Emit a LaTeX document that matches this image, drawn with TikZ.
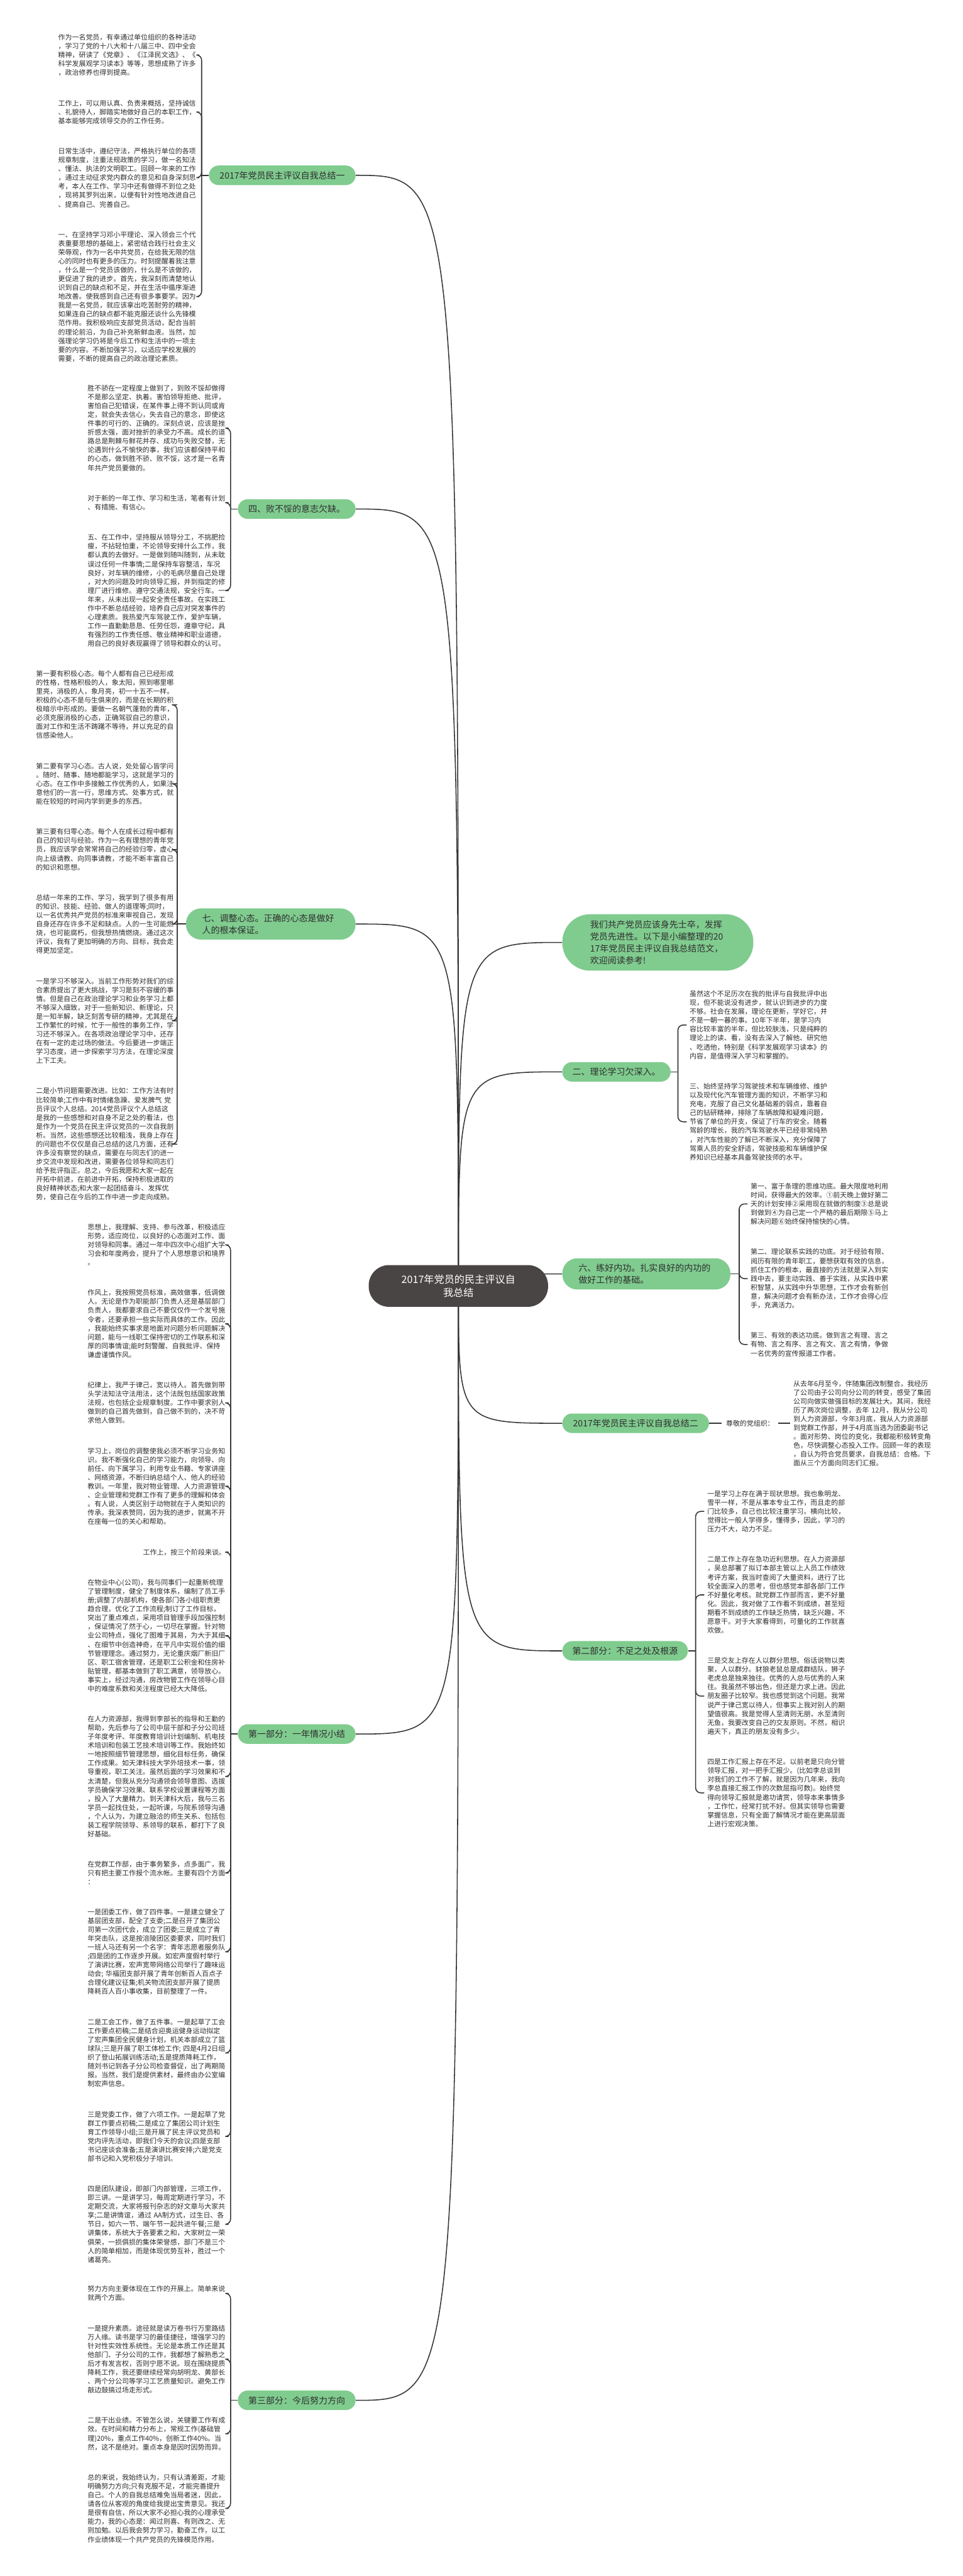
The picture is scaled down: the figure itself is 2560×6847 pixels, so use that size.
\documentclass[tikz,border=0pt]{standalone}
\usepackage{fontspec}
\setmainfont{Noto Sans CJK SC}
\usepackage{xcolor}
\usepackage{tikz}
\usetikzlibrary{positioning,backgrounds}
\definecolor{mapgreen}{HTML}{80CC8F}
\definecolor{rootgray}{HTML}{4A4545}
\definecolor{linegray}{HTML}{353535}
\definecolor{textgray}{HTML}{2E2E2E}
\newcommand{\leaffont}{\fontsize{9.15pt}{11.75pt}\selectfont}
\newcommand{\topicfont}{\fontsize{11.7pt}{15.8pt}\selectfont}
\newcommand{\rootfont}{\fontsize{13.5pt}{18pt}\selectfont}

\begin{document}
\begin{tikzpicture}[x=0.5pt,y=-0.5pt,node distance=31.5pt,
	leaf/.style={text width=183.5pt,align=left,inner sep=0pt,outer xsep=4pt,font=\leaffont,text=textgray},
	topic/.style={fill=mapgreen,rounded corners=13pt,minimum height=26pt,inner xsep=0pt,font=\topicfont,text=textgray},
	hook/.style={rounded corners=7pt,to path={(\tikztostart) |- (\tikztotarget)}},
	curvy/.style={to path={(\tikztostart) .. controls (\tikztostart |- \tikztotarget) .. (\tikztotarget)}},
	every edge/.style={draw=linegray,line width=1.3pt}]
			\useasboundingbox (0,0) rectangle (2560,6847);
			\node[fill=rootgray,text=white,rounded corners=27pt,minimum width=238.5pt,minimum height=55.5pt,align=center,font=\rootfont] (root) at (1219,3418) {2017年党员的民主评议自\\我总结};

			\node[topic,anchor=east,minimum width=195pt] (b1) at (946,466) {2017年党员民主评议自我总结一};
			\node[topic,anchor=east,minimum width=156.5pt] (b2) at (946,1353) {四、败不馁的意志欠缺。};
			\node[topic,anchor=east,text width=182.5pt,inner xsep=21.5pt,minimum height=41.5pt,rounded corners=20pt,align=left] (b3) at (946,2456) {七、调整心态。正确的心态是做好\\人的根本保证。};
			\node[topic,anchor=east,minimum width=156.5pt] (b4) at (946,4609) {第一部分：一年情况小结};
			\node[topic,anchor=east,minimum width=156.5pt] (b5) at (946,6380) {第三部分：今后努力方向};
			\node[topic,anchor=west,text width=180pt,inner xsep=37pt,minimum height=75pt,rounded corners=37pt,align=left] (r1) at (1495,2505) {我们共产党员应该身先士卒，发挥\\党员先进性。以下是小编整理的20\\17年党员民主评议自我总结范文，\\欢迎阅读参考!};
			\node[topic,anchor=west,minimum width=144pt] (r2) at (1495,2849) {二、理论学习欠深入。};
			\node[topic,anchor=west,text width=180.5pt,inner xsep=21.5pt,minimum height=41.5pt,rounded corners=20pt,align=left] (r3) at (1495,3386) {六、练好内功。扎实良好的内功的\\做好工作的基础。};
			\node[topic,anchor=west,minimum width=195pt] (r4) at (1495,3783) {2017年党员民主评议自我总结二};
			\node[topic,anchor=west,minimum width=167pt] (r5) at (1495,4388) {第二部分：不足之处及根源};

			\coordinate (h1) at ([xshift=-9.5pt]b1.west);
			\coordinate (h2) at ([xshift=-9.5pt]b2.west);
			\coordinate (h3) at ([xshift=-11.5pt]b3.west);
			\coordinate (h4) at ([xshift=-9.5pt]b4.west);
			\coordinate (h5) at ([xshift=-9.5pt]b5.west);
			\coordinate (k2) at ([xshift=9.5pt]r2.east);
			\coordinate (k3) at ([xshift=11.5pt]r3.east);
			\coordinate (k5) at ([xshift=10pt]r5.east);

			\node[leaf,anchor=north west] (l1a) at (147,90) {作为一名党员，有幸通过单位组织的各种活动\\，学习了党的十八大和十八届三中、四中全会\\精神，研读了《党章》、《江泽民文选》、《\\科学发展观学习读本》等等，思想成熟了许多\\，政治修养也得到提高。};
			\node[leaf] (l1b) [below=of l1a] {工作上，可以用认真、负责来概括，坚持诚信\\、礼貌待人，脚踏实地做好自己的本职工作，\\基本能够完成领导交办的工作任务。};
			\node[leaf] (l1c) [below=of l1b] {日常生活中，遵纪守法，严格执行单位的各项\\规章制度，注重法规政策的学习，做一名知法\\、懂法、执法的文明职工。回顾一年来的工作\\，通过主动征求党内群众的意见和自身深刻思\\考，本人在工作、学习中还有做得不到位之处\\，现将其罗列出来，以便有针对性地改进自己\\、提高自己、完善自己。};
			\node[leaf] (l1d) [below=of l1c] {一、在坚持学习邓小平理论、深入领会三个代\\表重要思想的基础上，紧密结合践行社会主义\\荣辱观，作为一名中共党员，在给我无限的信\\心的同时也有更多的压力。时刻提醒着我注意\\，什么是一个党员该做的，什么是不该做的，\\更促进了我的进步。首先，我深刻而清楚地认\\识到自己的缺点和不足，并在生活中循序渐进\\地改善。使我感到自己还有很多事要学。因为\\我是一名党员，就应该拿出吃苦耐劳的精神，\\如果连自己的缺点都不能克服还谈什么先锋模\\范作用。我积极响应支部党员活动，配合当前\\的理论前沿，为自己补充新鲜血液。当然，加\\强理论学习仍将是今后工作和生活中的一项主\\要的内容。不断加强学习，以适应学校发展的\\需要，不断的提高自己的政治理论素质。};

			\node[leaf,anchor=north west] (l2a) at (225,1023) {胜不骄在一定程度上做到了，到败不馁却做得\\不是那么坚定、执着。害怕领导拒绝、批评，\\害怕自己犯错误，在某件事上得不到认同或肯\\定，就会失去信心，失去自己的意念，即使这\\件事的可行的、正确的。深刻点说，应该是挫\\折感太强，面对挫折的承受力不高。成长的道\\路总是荆棘与鲜花并存、成功与失败交替，无\\论遇到什么不愉快的事，我们应该都保持平和\\的心态，做到胜不骄、败不馁，这才是一名青\\年共产党员要做的。};
			\node[leaf] (l2b) [below=of l2a] {对于新的一年工作、学习和生活，笔者有计划\\、有措施、有信心。};
			\node[leaf] (l2c) [below=of l2b] {五、在工作中，坚持服从领导分工，不挑肥捡\\瘦，不拈轻怕重，不论领导安排什么工作，我\\都认真的去做好。一是做到随叫随到，从未耽\\误过任何一件事情;二是保持车容整洁，车况\\良好，对车辆的维修，小的毛病尽量自己处理\\，对大的问题及时向领导汇报，并到指定的修\\理厂进行维修。遵守交通法规，安全行车。一\\年来，从未出现一起安全责任事故。在实践工\\作中不断总结经验，培养自己应对突发事件的\\心理素质。我热爱汽车驾驶工作，爱护车辆，\\工作一直勤勤恳恳、任劳任怨，遵章守纪，具\\有强烈的工作责任感、敬业精神和职业道德，\\用自己的良好表现赢得了领导和群众的认可。};

			\node[leaf,anchor=north west] (l3a) at (88,1782) {第一要有积极心态。每个人都有自己已经形成\\的性格，性格积极的人，象太阳，照到哪里哪\\里亮，消极的人，象月亮，初一十五不一样。\\积极的心态不是与生俱来的，而是在长期的积\\极暗示中形成的。要做一名朝气蓬勃的青年，\\必须克服消极的心态，正确驾驭自己的意识，\\面对工作和生活不踌躇不等待，并以充足的自\\信感染他人。};
			\node[leaf] (l3b) [below=of l3a] {第二要有学习心态。古人说，处处留心皆学问\\。随时、随事、随地都能学习，这就是学习的\\心态。在工作中多接触工作优秀的人，如果注\\意他们的一言一行，思维方式、处事方式，就\\能在较短的时间内学到更多的东西。};
			\node[leaf] (l3c) [below=of l3b] {第三要有归零心态。每个人在成长过程中都有\\自己的知识与经验。作为一名有理想的青年党\\员，我应该学会常常将自己的经验归零，虚心\\向上级请教、向同事请教，才能不断丰富自己\\的知识和思想。};
			\node[leaf] (l3d) [below=of l3c] {总结一年来的工作、学习，我学到了很多有用\\的知识、技能、经验、做人的道理等;同时，\\以一名优秀共产党员的标准来审视自己，发现\\自身还存在许多不足和缺点。人的一生可能燃\\烧，也可能腐朽，但我想热情燃烧。通过这次\\评议，我有了更加明确的方向、目标，我会走\\得更加坚定。};
			\node[leaf] (l3e) [below=of l3d] {一是学习不够深入。当前工作形势对我们的综\\合素质提出了更大挑战，学习是刻不容缓的事\\情。但是自己在政治理论学习和业务学习上都\\不够深入细致，对于一些新知识、新理论，只\\是一知半解，缺乏刻苦专研的精神，尤其是在\\工作繁忙的时候，忙于一般性的事务工作，学\\习还不够深入。在各项政治理论学习中，还存\\在有一定的走过场的做法。今后要进一步端正\\学习态度，进一步探索学习方法，在理论深度\\上下工夫。};
			\node[leaf] (l3f) [below=of l3e] {二是小节问题需要改进。比如：工作方法有时\\比较简单;工作中有时情绪急躁、爱发脾气 党\\员评议个人总结。2014党员评议个人总结这\\是我的一些感想和对自身不足之处的看法，也\\是作为一个党员在民主评议党员的一次自我剖\\析。当然，这些感想还比较粗浅，我身上存在\\的问题也不仅仅是自己总结的这几方面，还有\\许多没有察觉的缺点，需要在与同志们的进一\\步交流中发现和改进，需要各位领导和同志们\\给予批评指正。总之，今后我愿和大家一起在\\开拓中前进，在前进中开拓，保持积极进取的\\良好精神状态;和大家一起团结奋斗、发挥优\\势，使自己在今后的工作中进一步走向成熟。};

			\node[leaf,anchor=north west] (l4a) at (225,3253) {思想上，我理解、支持、参与改革，积极适应\\形势，适应岗位，以良好的心态面对工作、面\\对领导和同事。通过一年中四次中心组扩大学\\习会和年度两会，提升了个人思想意识和境界\\。};
			\node[leaf] (l4b) [below=of l4a] {作风上，我按照党员标准，高效做事，低调做\\人。无论是作为职能部门负责人还是基层部门\\负责人，我都要求自己不要仅仅作一个发号施\\令者，还要承担一些实际而具体的工作。因此\\，我能始终实事求是地面对问题分析问题解决\\问题，能与一线职工保持密切的工作联系和深\\厚的同事情谊;能时刻警醒、自我批评、保持\\谦虚谨慎作风。};
			\node[leaf] (l4c) [below=of l4b] {纪律上，我严于律己，宽以待人。首先做到带\\头学法知法守法用法，这个法既包括国家政策\\法规，也包括企业规章制度。工作中要求别人\\做到的自己首先做到，自己做不到的，决不苛\\求他人做到。};
			\node[leaf] (l4d) [below=of l4c] {学习上，岗位的调整使我必须不断学习业务知\\识。我不断强化自己的学习能力，向领导、向\\前任、向下属学习，利用专业书籍、专家讲座\\、网络资源，不断归纳总结个人、他人的经验\\教训。一年里，我对物业管理、人力资源管理\\、企业管理和党群工作有了更多的理解和体会\\。有人说，人类区别于动物就在于人类知识的\\传承。我深表赞同，因为我的进步，就离不开\\在座每一位的关心和帮助。};
			\node[leaf,align=right] (l4e) [below=of l4d] {工作上，按三个阶段来谈。};
			\node[leaf] (l4f) [below=of l4e] {在物业中心(公司)，我与同事们一起重新梳理\\了管理制度，健全了制度体系，编制了员工手\\册;调整了内部机构，使各部门各小组职责更\\趋合理，优化了工作流程;制订了工作目标，\\突出了重点难点，采用项目管理手段加强控制\\，保证情况了然于心，一切尽在掌握。针对物\\业公司特点，强化了图难于其易，为大于其细\\、在细节中创造神奇，在平凡中实现价值的细\\节管理理念。通过努力，无论重庆烟厂新旧厂\\区、职工宿舍管理，还是职工公积金和住房补\\贴管理，都基本做到了职工满意，领导放心。\\事实上，经过沟通，房改物管工作在领导心目\\中的难度系数和关注程度已经大大降低。};
			\node[leaf] (l4g) [below=of l4f] {在人力资源部，我得到李部长的指导和王勤的\\帮助，先后参与了公司中层干部和子分公司班\\子年度考评、年度教育培训计划编制、机电技\\术培训和包装工艺技术培训等工作。我始终如\\一地按照细节管理思想，细化目标任务，确保\\工作成果。如天津科技大学外培技术一事，领\\导重视，职工关注。虽然后面的学习效果和不\\太清楚，但我从充分沟通领会领导意图、选拔\\学员确保学习效果、联系学校设置课程等方面\\，投入了大量精力。到天津科大后，我与三名\\学员一起找住处，一起听课，与院系领导沟通\\，个人认为，为建立融洽的师生关系、包括包\\装工程学院领导、系领导的联系，都打下了良\\好基础。};
			\node[leaf] (l4h) [below=of l4g] {在党群工作部，由于事务繁多，点多面广，我\\只有把主要工作报个流水帐。主要有四个方面\\：};
			\node[leaf] (l4i) [below=of l4h] {一是团委工作，做了四件事。一是建立健全了\\基层团支部，配全了支委;二是召开了集团公\\司第一次团代会，成立了团委;三是成立了青\\年突击队，这是按涪陵团区委要求，同时我们\\一班人马还有另一个名字：青年志愿者服务队\\;四是团的工作逐步开展。如宏声度假村举行\\了演讲比赛，宏声宽带网络公司举行了趣味运\\动会; 华福团支部开展了青年创新百人百点子\\合理化建议征集;机关物流团支部开展了提质\\降耗百人百小事收集，目前整理了一件。};
			\node[leaf] (l4j) [below=of l4i] {二是工会工作，做了五件事。一是起草了工会\\工作要点初稿;二是结合迎奥运健身运动拟定\\了宏声集团全民健身计划，机关本部成立了篮\\球队;三是开展了职工体检工作; 四是4月2日组\\织了登山拓展训练活动;五是提质降耗工作，\\随刘书记到各子分公司检查督促，出了两期简\\报。当然，我们是提供素材，最终由办公室编\\制宏声信息。};
			\node[leaf] (l4k) [below=of l4j] {三是党委工作，做了六项工作。一是起草了党\\群工作要点初稿;二是成立了集团公司计划生\\育工作领导小组;三是开展了民主评议党员和\\党内评先活动，即我们今天的会议;四是支部\\书记座谈会准备;五是演讲比赛安排;六是党支\\部书记和入党积极分子培训。};
			\node[leaf] (l4l) [below=of l4k] {四是团队建设，即部门内部管理，三项工作，\\即三讲。一是讲学习，每周定期进行学习，不\\定期交流，大家将报刊杂志的好文章与大家共\\享;二是讲情谊，通过 AA制方式，过生日、各\\节日，如六一节、端午节一起共进午餐;三是\\讲集体，系统大于各要素之和，大家树立一荣\\俱荣，一损俱损的集体荣誉感，部门不是三个\\人的简单相加，而是体现优势互补，胜过一个\\诸葛亮。};

			\node[leaf,anchor=north west] (l5a) at (225,6075) {努力方向主要体现在工作的开展上。简单来说\\就两个方面。};
			\node[leaf] (l5b) [below=of l5a] {一是提升素质。途径就是读万卷书行万里路结\\万人缘。读书是学习的最佳捷径，增强学习的\\针对性实效性系统性。无论是本质工作还是其\\他部门、子分公司的工作，我都想了解熟悉之\\后才有发言权，否则宁愿不说。现在围绕提质\\降耗工作，我还要继续经常向胡明龙、黄部长\\、两个分公司等学习工艺质量知识。避免工作\\敲边鼓搞过场走形式。};
			\node[leaf] (l5c) [below=of l5b] {二是干出业绩。不管怎么说，关键要工作有成\\效。在时间和精力分布上，常规工作(基础管\\理)20\%，重点工作40\%，创新工作40\%。当\\然，这不是绝对。重点本身是因时因势而异。};
			\node[leaf] (l5d) [below=of l5c] {总的来说，我始终认为，只有认清差距，才能\\明确努力方向;只有克服不足，才能完善提升\\自己。个人的自我总结难免当局者迷，因此，\\请各位从客观的角度给我提出宝贵意见。我还\\是很有自信，所以大家不必担心我的心理承受\\能力，我的心态是：闻过则喜、有则改之、无\\则加勉。以后我会努力学习，勤奋工作，以工\\作业绩体现一个共产党员的先锋模范作用。};

			\node[leaf,anchor=north west] (m2a) at (1826,2633) {虽然这个不足历次在我的批评与自我批评中出\\现，但不能说没有进步，就认识到进步的力度\\不够。社会在发展，理论在更新，学好它，并\\不是一朝一暮的事。10年下半年，是学习内\\容比较丰富的半年，但比较肤浅，只是纯粹的\\理论上的读、看，没有去深入了解他、研究他\\、吃透他，特别是《科学发展观学习读本》的\\内容，是值得深入学习和掌握的。};
			\node[leaf] (m2b) [below=of m2a] {三、始终坚持学习驾驶技术和车辆维修、维护\\以及现代化汽车管理方面的知识，不断学习和\\充电，克服了自己文化基础差的弱点，靠着自\\己的钻研精神，排除了车辆故障和疑难问题，\\节省了单位的开支，保证了行车的安全。随着\\驾龄的增长，我的汽车驾驶水平已经非常纯熟\\，对汽车性能的了解已不断深入，充分保障了\\驾乘人员的安全舒适，驾驶技能和车辆维护保\\养知识已经基本具备驾驶技师的水平。};

			\node[leaf,anchor=north west] (m3a) at (1988,3144) {第一、富于条理的思维功底。最大限度地利用\\时间，获得最大的效率。①前天晚上做好第二\\天的计划安排②采用现在就做的制度③总是说\\到做到④为自己定一个严格的最后期限⑤马上\\解决问题⑥始终保持愉快的心情。};
			\node[leaf] (m3b) [below=of m3a] {第二、理论联系实践的功底。对于经验有限、\\阅历有限的青年职工，要想获取有效的信息，\\抓住工作的根本，最直接的方法就是深入到实\\践中去，要主动实践、善于实践，从实践中累\\积智慧，从实践中升华思想，工作才会有新创\\意，解决问题才会有新办法，工作才会得心应\\手，充满活力。};
			\node[leaf] (m3c) [below=of m3b] {第三、有效的表达功底。做到言之有理、言之\\有物、言之有序、言之有文、言之有情，争做\\一名优秀的宣传报道工作者。};

			\node[font=\leaffont,text=textgray,inner sep=0pt,outer xsep=5.5pt] (r4tag) [right=17pt of r4] {尊敬的党组织：};
			\node[leaf] (m4a) [right=16pt of r4tag] {从去年6月至今，伴随集团改制整合，我经历\\了公司由子公司向分公司的转变，感受了集团\\公司向做实做强目标的发展壮大。其间，我经\\历了两次岗位调整，去年 12月，我从分公司\\到人力资源部，今年3月底，我从人力资源部\\到党群工作部，并于4月底当选为团委副书记\\。面对形势、岗位的变化，我都能积极转变角\\色，尽快调整心态投入工作。回顾一年的表现\\，自认为符合党员要求，自我总结：合格。下\\面从三个方面向同志们汇报。};

			\node[leaf,anchor=north west] (m5a) at (1873,3961) {一是学习上存在满于现状思想。我也象明龙、\\雪平一样，不是从事本专业工作，而且走的部\\门比较多，自己也比较注重学习。横向比较，\\觉得比一般人学得多，懂得多，因此，学习的\\压力不大，动力不足。};
			\node[leaf] (m5b) [below=of m5a] {二是工作上存在急功近利思想。在人力资源部\\，吴总部署了拟订本部主管以上人员工作绩效\\考评方案，我当时查阅了大量资料，进行了比\\较全面深入的思考，但也感觉本部各部门工作\\不好量化考核。就党群工作部而言，更不好量\\化。因此，我对做了工作看不到成绩，甚至短\\期看不到成绩的工作缺乏热情，缺乏兴趣，不\\愿意干。对于大家看得到，可量化的工作就喜\\欢做。};
			\node[leaf] (m5c) [below=of m5b] {三是交友上存在人以群分思想。俗话说物以类\\聚，人以群分。豺狼老鼠总是成群结队，狮子\\老虎总是独来独往。优秀的人总与优秀的人来\\往。我虽然不够出色，但还是力求上进。因此\\朋友圈子比较窄。我也感觉到这个问题。我常\\说严于律己宽以待人，但事实上我对别人的期\\望值很高。我是觉得人至清则无朋，水至清则\\无鱼，我要改变自己的交友原则。不然，相识\\遍天下，真正的朋友没有多少。};
			\node[leaf] (m5d) [below=of m5c] {四是工作汇报上存在不足。以前老是只向分管\\领导汇报，对一把手汇报少。(比如李总谈到\\对我们的工作不了解，就是因为几年来，我向\\李总直接汇报工作的次数屈指可数)。始终觉\\得向领导汇报就是邀功请赏，领导本来事情多\\，工作忙，经常打扰不好。但其实领导也需要\\掌握信息，只有全面了解情况才能在更高层面\\上进行宏观决策。};

			\begin{scope}[on background layer]
			\fill[white] (0,0) rectangle (2560,6847);
			\draw 	(root.center) edge[curvy] (b1.east)
					(root.center) edge[curvy] (b2.east)
					(root.center) edge[curvy] (b3.east)
					(root.center) edge[curvy] (b4.east)
					(root.center) edge[curvy] (b5.east)
					(root.center) edge[curvy] (r1.west)
					(root.center) edge[curvy] (r2.west)
					(root.center) edge[curvy] (r3.west)
					(root.center) edge[curvy] (r4.west)
					(root.center) edge[curvy] (r5.west)
					(b1.west) edge (h1)
					(h1) edge[hook] (l1a.east)
					(h1) edge[hook] (l1b.east)
					(h1) edge[hook] (l1c.east)
					(h1) edge[hook] (l1d.east)
					(b2.west) edge (h2)
					(h2) edge[hook] (l2a.east)
					(h2) edge[hook] (l2b.east)
					(h2) edge[hook] (l2c.east)
					(b3.west) edge (h3)
					(h3) edge[hook] (l3a.east)
					(h3) edge[hook] (l3b.east)
					(h3) edge[hook] (l3c.east)
					(h3) edge[hook] (l3d.east)
					(h3) edge[hook] (l3e.east)
					(h3) edge[hook] (l3f.east)
					(b4.west) edge (h4)
					(h4) edge[hook] (l4a.east)
					(h4) edge[hook] (l4b.east)
					(h4) edge[hook] (l4c.east)
					(h4) edge[hook] (l4d.east)
					(h4) edge[hook] (l4e.east)
					(h4) edge[hook] (l4f.east)
					(h4) edge[hook] (l4g.east)
					(h4) edge[hook] (l4h.east)
					(h4) edge[hook] (l4i.east)
					(h4) edge[hook] (l4j.east)
					(h4) edge[hook] (l4k.east)
					(h4) edge[hook] (l4l.east)
					(b5.west) edge (h5)
					(h5) edge[hook] (l5a.east)
					(h5) edge[hook] (l5b.east)
					(h5) edge[hook] (l5c.east)
					(h5) edge[hook] (l5d.east)
					(r2.east) edge (k2)
					(k2) edge[hook] (m2a.west)
					(k2) edge[hook] (m2b.west)
					(r3.east) edge (k3)
					(k3) edge[hook] (m3a.west)
					(k3) edge[hook] (m3b.west)
					(k3) edge[hook] (m3c.west)
					(r4.east) edge (r4tag.west)
					(r4tag.east) edge (m4a.west)
					(r5.east) edge (k5)
					(k5) edge[hook] (m5a.west)
					(k5) edge[hook] (m5b.west)
					(k5) edge[hook] (m5c.west)
					(k5) edge[hook] (m5d.west);
			\end{scope}
\end{tikzpicture}
\end{document}
